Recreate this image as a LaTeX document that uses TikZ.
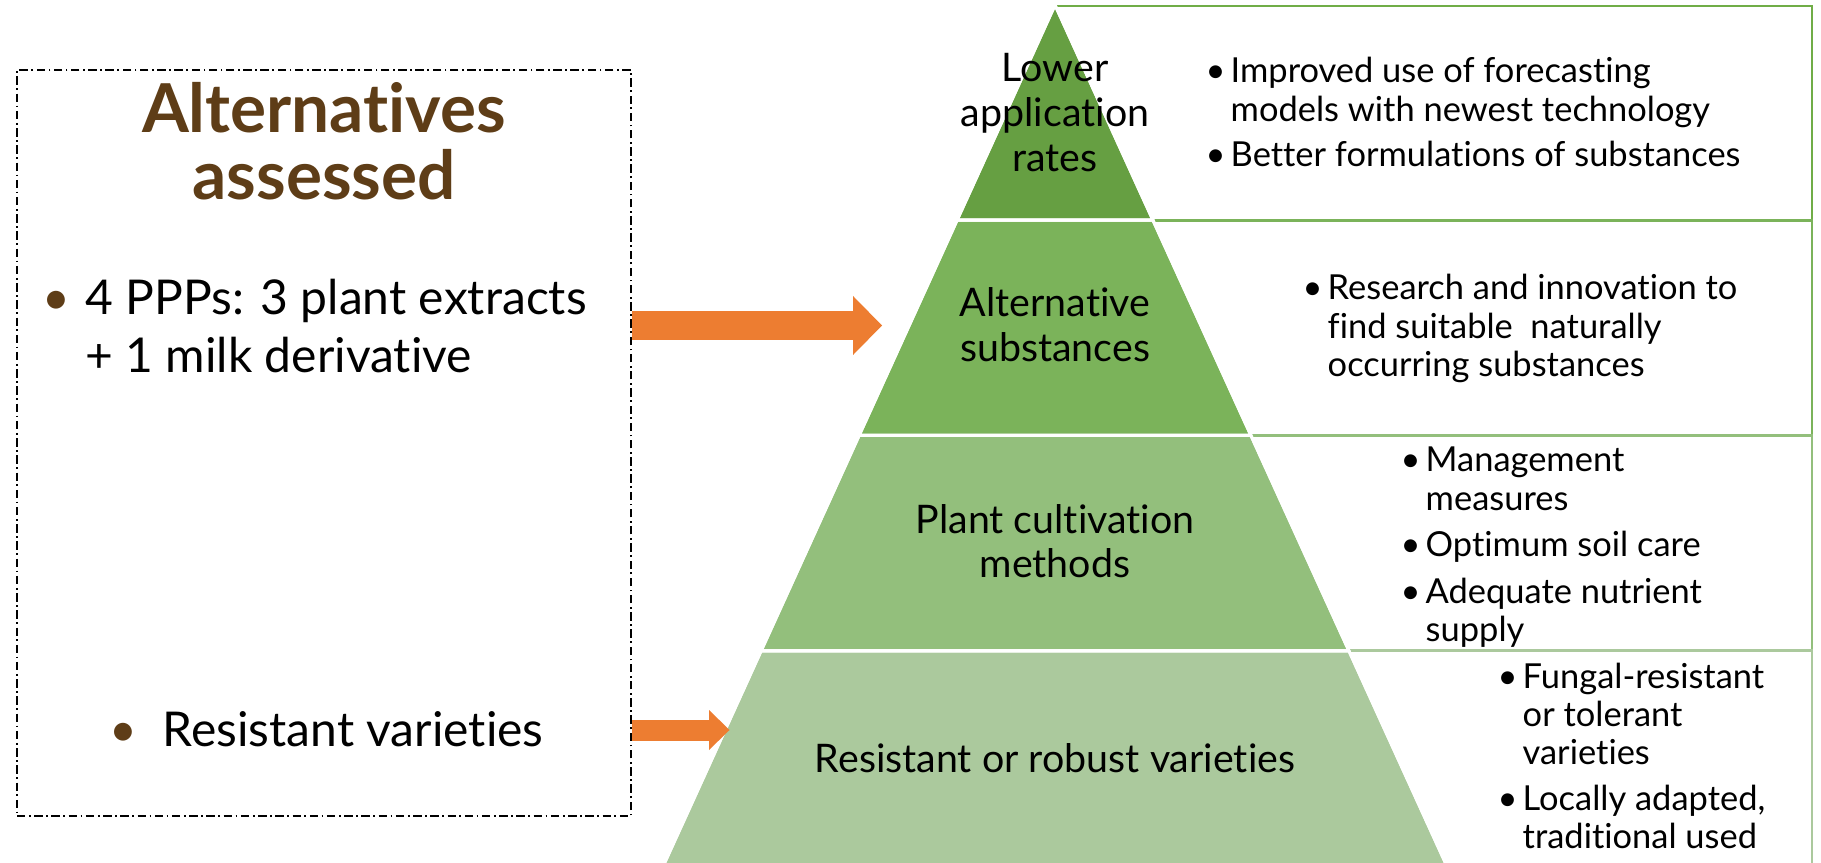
\documentclass[tikz,border=0pt]{standalone}
\usepackage{fontspec}
\setmainfont{Lato}[Ligatures={NoCommon}]
\usetikzlibrary{positioning,fit,calc,arrows.meta}

\definecolor{titleBrown}{HTML}{5E3D17}
\definecolor{arrowOrange}{HTML}{ED7D31}
\definecolor{layerGreen1}{HTML}{669F42}
\definecolor{layerGreen2}{HTML}{7BB35A}
\definecolor{layerGreen3}{HTML}{93BF7C}
\definecolor{layerGreen4}{HTML}{ABC99D}
\definecolor{frameGreen1}{HTML}{70AD47}

\begin{document}
\begin{tikzpicture}[
  x=0.1mm, y=-0.1mm,
  titleText/.style={font=\fontsize{19.2}{19.1}\selectfont\bfseries, text=titleBrown, inner sep=0pt, anchor=base},
  leftText/.style={font=\fontsize{13.65}{16.5}\selectfont, inner sep=0pt, anchor=base west},
  layerText/.style={font=\fontsize{11.2}{12.8}\selectfont, inner sep=0pt, anchor=base},
  boxText/.style={font=\fontsize{9.8}{10.9}\selectfont, inner sep=0pt, anchor=base west}
]
	\useasboundingbox (0,0) rectangle (1821,863);

	\tikzstyle{altFrame} = [rectangle, draw=black, line width=0.6pt, dash pattern=on 2.4pt off 1pt on 0.5pt off 1pt, inner sep=0pt]
	\tikzstyle{textBox1} = [rectangle, draw=frameGreen1, line width=0.8pt, inner sep=0pt]
	\tikzstyle{textBox2} = [rectangle, draw=layerGreen2, line width=0.8pt, inner sep=0pt]
	\tikzstyle{textBox3} = [rectangle, draw=layerGreen3, line width=0.8pt, inner sep=0pt]
	\tikzstyle{textBox4} = [rectangle, draw=layerGreen4, line width=0.8pt, inner sep=0pt]
	\tikzstyle{pyramidLayer} = [draw=white, line width=0.3mm, line join=round]
	\tikzstyle{bigArrow} = [draw=arrowOrange, line width=2.9mm, -{Triangle[length=2.9mm, width=5.9mm, line width=0pt]}]
	\tikzstyle{smallArrow} = [draw=arrowOrange, line width=2.1mm, -{Triangle[length=2.05mm, width=4mm, line width=0pt]}]

	% pyramid corners and layer borders
	\coordinate (apex) at (1055,5);
	\coordinate (baseLeft) at (663.2,866);
	\coordinate (baseRight) at (1446.8,866);
	\coordinate (leftA) at ($(apex)!0.25!(baseLeft)$);
	\coordinate (leftB) at ($(apex)!0.5!(baseLeft)$);
	\coordinate (leftC) at ($(apex)!0.75!(baseLeft)$);
	\coordinate (rightA) at ($(apex)!0.25!(baseRight)$);
	\coordinate (rightB) at ($(apex)!0.5!(baseRight)$);
	\coordinate (rightC) at ($(apex)!0.75!(baseRight)$);

	\node (textBox1) [textBox1, fit={(1055,6) (1812,0 |- leftA)}] {};
	\node (textBox2) [textBox2, fit={(1055,0 |- leftA) (1812,0 |- leftB)}] {};
	\node (textBox3) [textBox3, fit={(1055,0 |- leftB) (1812,0 |- leftC)}] {};
	\node (textBox4) [textBox4, fit={(1055,0 |- leftC) (1812,890)}] {};

	\fill[pyramidLayer, fill=layerGreen1] (apex) -- (rightA) -- (leftA) -- cycle;
	\fill[pyramidLayer, fill=layerGreen2] (leftA) -- (rightA) -- (rightB) -- (leftB) -- cycle;
	\fill[pyramidLayer, fill=layerGreen3] (leftB) -- (rightB) -- (rightC) -- (leftC) -- cycle;
	\fill[pyramidLayer, fill=layerGreen4] (leftC) -- (rightC) -- (baseRight) -- (baseLeft) -- cycle;
	\draw[pyramidLayer] (apex) -- (rightA) -- (leftA) -- cycle;
	\draw[pyramidLayer] (leftA) -- (rightA) -- (rightB) -- (leftB) -- cycle;
	\draw[pyramidLayer] (leftB) -- (rightB) -- (rightC) -- (leftC) -- cycle;
	\draw[pyramidLayer] (leftC) -- (rightC) -- (baseRight) -- (baseLeft) -- cycle;

	\node (lowerLabel) [layerText] at (1055,82) {\begin{tabular}[t]{@{}c@{}}Lower\\application\\rates\end{tabular}};
	\node (substLabel) [layerText] at (1055,317) {\begin{tabular}[t]{@{}c@{}}Alternative\\substances\end{tabular}};
	\node (cultLabel) [layerText] at (1055,533) {\begin{tabular}[t]{@{}c@{}}Plant cultivation\\methods\end{tabular}};
	\node (resistLabel) [layerText] at (1055,772) {Resistant or robust varieties};

	\node (forecastText) [boxText] at (1205,83) {\begin{tabular}[t]{@{}l@{}l@{}}
		\makebox[2.5mm][l]{\textbullet} & Improved use of forecasting\\
		& models with newest technology\\[2.1pt]
		\textbullet & Better formulations of substances\end{tabular}};
	\node (researchText) [boxText] at (1302,300) {\begin{tabular}[t]{@{}l@{}l@{}}
		\makebox[2.5mm][l]{\textbullet} & Research and innovation to\\
		& find suitable\ \ naturally\\
		& occurring substances\end{tabular}};
	\node (cultText) [boxText] at (1400,472) {\begin{tabular}[t]{@{}l@{}l@{}}
		\makebox[2.5mm][l]{\textbullet} & Management\\
		& measures\\[2.3pt]
		\textbullet & Optimum soil care\\[2.3pt]
		\textbullet & Adequate nutrient\\
		& supply\end{tabular}};
	\node (varietyText) [boxText] at (1497,688) {\begin{tabular}[t]{@{}l@{}l@{}}
		\makebox[2.5mm][l]{\textbullet} & Fungal-resistant\\
		& or tolerant\\
		& varieties\\[2.1pt]
		\textbullet & Locally adapted,\\
		& traditional used\end{tabular}};

	\node (altBox) [altFrame, fit={(17,70) (631,816)}] {};
	\node (altTitle) [titleText] at (324,133) {\begin{tabular}[t]{@{}c@{}}Alternatives\\[-1.1pt]assessed\end{tabular}};
	\node (pppItem) [leftText] at (42,315) {\begin{tabular}[t]{@{}l@{}l@{}}
		\makebox[4.3mm][l]{\color{titleBrown}\textbullet} & 4 PPPs: 3 plant extracts\\
		& + 1 milk derivative\end{tabular}};
	\node (varietyItem) [leftText] at (109,746) {\makebox[5.3mm][l]{\color{titleBrown}\textbullet}Resistant varieties};

	\coordinate (substTip) at (882,325.5);
	\coordinate (resistTip) at (729.5,730);
	\draw[bigArrow] (altBox.east |- substTip) -- (substTip);
	\draw[smallArrow] (altBox.east |- resistTip) -- (resistTip);
\end{tikzpicture}
\end{document}
